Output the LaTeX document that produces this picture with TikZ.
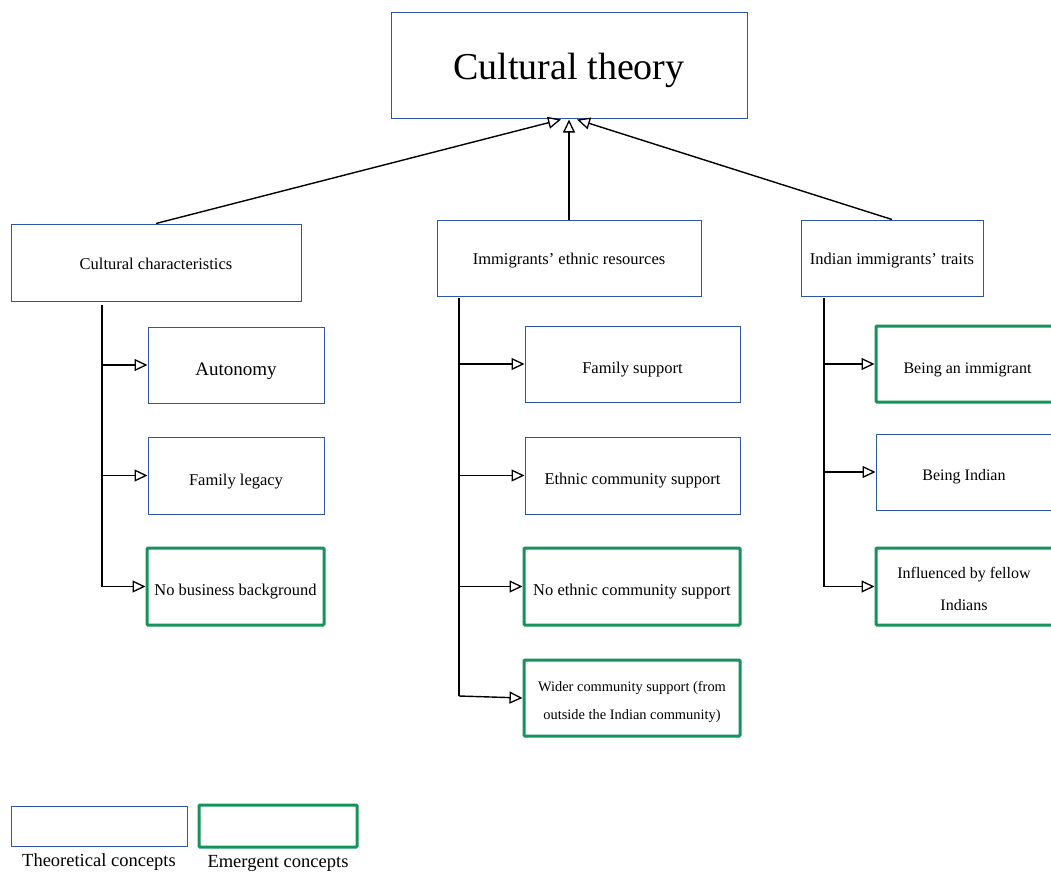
\documentclass[tikz,border=0pt]{standalone}
\usepackage{fontspec}
\setmainfont{Liberation Serif}
\usetikzlibrary{arrows.meta}
\definecolor{theoblue}{RGB}{46,86,165}
\definecolor{emgreen}{RGB}{20,148,90}
% two-line label, its ink lowered by #1 without changing its reported size
\newcommand\twoline[3]{\raisebox{-#1}[\height][\depth]{\begin{tabular}{@{}c@{}}#2\\#3\end{tabular}}}
\tikzset{
  theo/.style={draw=theoblue, line width=1pt, rectangle, inner sep=0pt, align=center, font=\fontsize{16.5}{24}\selectfont},
  emer/.style={draw=emgreen, line width=3pt, rectangle, rounded corners=1pt, inner sep=0pt, align=center, font=\fontsize{16.5}{24}\selectfont},
  % baseline sits #1 below the centre of the box
  drop/.style={text depth=0pt, text height=2*#1},
  conn/.style={draw=black, line width=1.4pt},
  arr/.style={conn, -{Triangle[open, length=13pt, width=12pt, line width=1.3pt]}},
}
\begin{document}
\begin{tikzpicture}[x=1pt, y=-1pt]
\useasboundingbox (0,0) rectangle (1051,872);
\clip (0,0) rectangle (1051,872);

% root concept
\node[theo, drop=14pt, minimum width=356, minimum height=106, font=\fontsize{38}{44}\selectfont] (ct) at (569,66) {Cultural theory};

% second level
\node[theo, drop=6.5pt, minimum width=290, minimum height=77] (cc) at (156,262.5) {Cultural characteristics};
\node[theo, drop=6pt, minimum width=264, minimum height=76] (ie) at (569,258) {Immigrants’ ethnic resources};
\node[theo, drop=6pt, minimum width=182, minimum height=76] (it) at (892,258) {Indian immigrants’ traits};

% cultural characteristics
\node[theo, drop=10pt, minimum width=176, minimum height=76, font=\fontsize{19}{24}\selectfont] (au) at (236,365) {Autonomy};
\node[theo, drop=9.5pt, minimum width=176, minimum height=77] (fl) at (236,475.5) {Family legacy};
\node[emer, drop=9pt, minimum width=177, minimum height=77] (nb) at (235.5,586.5) {No business background};

% ethnic resources
\node[theo, drop=9pt, minimum width=215, minimum height=76] (fs) at (632.5,364) {Family support};
\node[theo, drop=8.5pt, minimum width=215, minimum height=77] (es) at (632.5,475.5) {Ethnic community support};
\node[emer, drop=9pt, minimum width=216, minimum height=77] (ne) at (632,586.5) {No ethnic community support};
\node[emer, minimum width=216, minimum height=76, font=\fontsize{14.4}{28}\selectfont] (wc) at (632,698) {\twoline{1.5pt}{Wider community support (from}{outside the Indian community)}};

% immigrants' traits
\node[emer, drop=9pt, minimum width=186, minimum height=76, font=\fontsize{16}{24}\selectfont] (bim) at (969,364) {Being an immigrant\hspace*{3pt}};
\node[theo, drop=8pt, minimum width=186, minimum height=76, font=\fontsize{16}{24}\selectfont] (bin) at (969,472) {Being Indian\hspace*{10pt}};
\node[emer, minimum width=186, minimum height=77, font=\fontsize{16}{32}\selectfont] (inf) at (969,586.5) {\twoline{2pt}{Influenced by fellow\hspace*{10pt}}{Indians\hspace*{10pt}}};

% links to the root
\draw[arr] (cc.north) -- ([xshift=-8pt]ct.south);
\draw[arr] (ie.north) -- (ct.south);
\draw[arr] (it.north) -- ([xshift=8pt]ct.south);

% branch spines
\coordinate (s1) at ([xshift=-54pt,yshift=-3pt]cc.south);
\coordinate (s2) at ([xshift=-110pt,yshift=-1pt]ie.south);
\coordinate (s3) at ([xshift=-68pt,yshift=-1pt]it.south);

\draw[conn] (s1) -- (s1 |- nb.west);
\draw[arr] (s1 |- au.west) -- (au.west);
\draw[arr] (s1 |- fl.west) -- (fl.west);
\draw[arr] (s1 |- nb.west) -- (nb.west);

\draw[conn] (s2) -- ([yshift=2pt]s2 |- wc.west);
\draw[arr] (s2 |- fs.west) -- (fs.west);
\draw[arr] (s2 |- es.west) -- (es.west);
\draw[arr] (s2 |- ne.west) -- (ne.west);
\draw[arr] ([yshift=2pt]s2 |- wc.west) -- (wc.west);

\draw[conn] (s3) -- (s3 |- inf.west);
\draw[arr] (s3 |- bim.west) -- (bim.west);
\draw[arr] (s3 |- bin.west) -- (bin.west);
\draw[arr] (s3 |- inf.west) -- (inf.west);

% legend
\node[theo, minimum width=176, minimum height=40] (lt) at (99,826) {};
\node[emer, minimum width=158, minimum height=42] (le) at (278,826) {};
\node[anchor=north, inner sep=0pt, font=\fontsize{18.5}{20}\selectfont] (ltl) at ([yshift=-7pt]lt.south) {Theoretical concepts};
\node[anchor=north, inner sep=0pt, font=\fontsize{18.5}{20}\selectfont] (lel) at ([yshift=-6.5pt]le.south) {Emergent concepts};
\end{tikzpicture}
\end{document}
